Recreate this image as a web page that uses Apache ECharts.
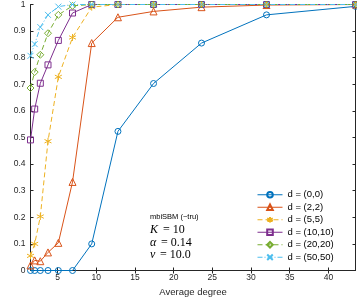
<!DOCTYPE html>
<html><head><meta charset="utf-8">
<script src="https://cdn.jsdelivr.net/npm/echarts@6/dist/echarts.min.js"></script>
<style>
html,body{margin:0;padding:0;background:#fff}
#wrap{position:relative;width:357px;height:298px}
#c,#t{position:absolute;left:0;top:0;width:357px;height:298px}
#t{pointer-events:none}
</style>
</head><body><div id="wrap"><div id="c"></div><div id="t"></div></div>
<script>
const degrees = [1.5, 2.04, 2.77, 3.76, 5.1, 6.93, 9.41, 12.8, 17.4, 23.6, 32.0, 43.5];
const names = ['d = (0,0)', 'd = (2,2)', 'd = (5,5)', 'd = (10,10)', 'd = (20,20)', 'd = (50,50)'];
const nmi_0_0   = [0, 0, 0, 0, 0, 0, 0.1, 0.523, 0.703, 0.855, 0.961, 0.993];
const nmi_2_2   = [0.019, 0.038, 0.035, 0.068, 0.104, 0.333, 0.855, 0.952, 0.974, 0.99, 0.998, 1];
const nmi_5_5   = [0.055, 0.10, 0.203, 0.486, 0.728, 0.876, 0.99, 1, 1, 1, 1, 1];
const nmi_10_10 = [0.491, 0.607, 0.704, 0.773, 0.865, 0.968, 1, 1, 1, 1, 1, 1];
const nmi_20_20 = [0.686, 0.746, 0.811, 0.892, 0.961, 0.995, 1, 1, 1, 1, 1, 1];
const nmi_50_50 = [0.807, 0.851, 0.915, 0.961, 0.992, 1, 1, 1, 1, 1, 1, 1];
const xTicks = [5, 10, 15, 20, 25, 30, 35, 40];
const yTickLabels = ['0','0.1','0.2','0.3','0.4','0.5','0.6','0.7','0.8','0.9','1'];

const colors = ['#0072BD', '#D95319', '#EDB120', '#7E2F8E', '#77AC30', '#4DBEEE'];
const symbols = ['circle', 'triangle',
  'path://M0,-1L0,1M-0.87,-0.5L0.87,0.5M-0.87,0.5L0.87,-0.5',
  'rect', 'diamond',
  'path://M-1,-1L1,1M-1,1L1,-1'];
const sizes = [6, 7, 7, 6, 7, 6];
const dashes = ['solid', 'solid', [5, 3], 'solid', [5, 3], [5, 2, 1, 2]];
const allY = [nmi_0_0, nmi_2_2, nmi_5_5, nmi_10_10, nmi_20_20, nmi_50_50];

const ax = '#262626';
const fontFam = 'Liberation Sans, Arial, sans-serif';
const gridBox = {left: 30.5, right: 1.5, top: 4.5, bottom: 27.5, containLabel: false, outerBoundsMode: 'none'};

const chart = echarts.init(document.getElementById('c'), null, {renderer: 'canvas'});
const labelsChart = echarts.init(document.getElementById('t'), null, {renderer: 'canvas'});

const series = allY.map((ys, i) => ({
  name: names[i], type: 'line', xAxisIndex: 0, yAxisIndex: 0,
  data: degrees.map((d, k) => [d, ys[k]]),
  symbol: symbols[i], symbolSize: sizes[i], showAllSymbol: true,
  lineStyle: {color: colors[i], width: 1, type: dashes[i]},
  itemStyle: {color: 'rgba(255,255,255,0)', borderColor: colors[i], borderWidth: 1},
  emphasis: {disabled: true}, animation: false
}));

const xCommon = {type: 'value', min: 1.5, max: 43.5,
  axisLine: {show: true, lineStyle: {color: ax, width: 1}},
  axisTick: {show: true, inside: true, length: 3, customValues: xTicks, lineStyle: {color: ax}},
  axisLabel: {show: false},
  splitLine: {show: false}};
const yCommon = {type: 'value', min: 0, max: 1, interval: 0.1,
  axisLine: {show: true, lineStyle: {color: ax, width: 1}},
  axisTick: {show: true, inside: true, length: 3, lineStyle: {color: ax}},
  splitLine: {show: false}};

const serif = '12px Liberation Serif, serif';
const serifIt = 'italic 12px Liberation Serif, serif';

chart.setOption({
  animation: false,
  grid: gridBox,
  xAxis: [
    Object.assign({}, xCommon, {position: 'bottom',
      name: 'Average degree', nameLocation: 'middle', nameGap: 17,
      nameTextStyle: {color: ax, fontSize: 9.5, fontFamily: fontFam}}),
    Object.assign({}, xCommon, {position: 'top'})
  ],
  yAxis: [
    Object.assign({}, yCommon, {position: 'left',
      name: 'Matched NMI', nameLocation: 'middle', nameGap: 22,
      nameTextStyle: {color: ax, fontSize: 9.5, fontFamily: fontFam},
      axisLabel: {show: true, color: ax, fontSize: 8.5, fontFamily: fontFam, margin: 5,
        formatter: (v) => yTickLabels[Math.round(v * 10)]}}),
    Object.assign({}, yCommon, {position: 'right', axisLabel: {show: false}})
  ],
  legend: {
    orient: 'vertical', left: 257, top: 189,
    itemWidth: 25, itemHeight: 7, itemGap: 1, padding: 0,
    lineStyle: {width: 1},
    textStyle: {color: '#000', fontSize: 9.5, fontFamily: fontFam, lineHeight: 11.5},
    data: names
  },
  graphic: [
    {type: 'text', left: 150, top: 213, style: {text: 'mbiSBM (~tru)', fill: '#000',
      font: '7.5px Liberation Sans, Arial, sans-serif'}},
    {type: 'text', left: 150, top: 224, style: {text: 'K', fill: '#000', font: serifIt}},
    {type: 'text', left: 163, top: 224, style: {text: '= 10', fill: '#000', font: serif}},
    {type: 'text', left: 150, top: 236.5, style: {text: 'α', fill: '#000', font: serifIt}},
    {type: 'text', left: 161, top: 236.5, style: {text: '= 0.14', fill: '#000', font: serif}},
    {type: 'text', left: 150, top: 249, style: {text: 'ν', fill: '#000', font: serifIt}},
    {type: 'text', left: 160, top: 249, style: {text: '= 10.0', fill: '#000', font: serif}}
  ],
  series: series
});

// x-axis tick labels, drawn by a transparent overlay chart sharing the same grid and scale
labelsChart.setOption({
  animation: false,
  backgroundColor: 'transparent',
  grid: gridBox,
  xAxis: [{type: 'value', min: 1.5, max: 43.5, position: 'bottom',
    axisLine: {show: false}, axisTick: {show: false}, splitLine: {show: false},
    axisLabel: {show: true, color: ax, fontSize: 8.5, fontFamily: fontFam, margin: 3,
      customValues: xTicks, formatter: v => String(v)}}],
  yAxis: [{type: 'value', min: 0, max: 1, show: false}],
  series: []
});
</script></body></html>
